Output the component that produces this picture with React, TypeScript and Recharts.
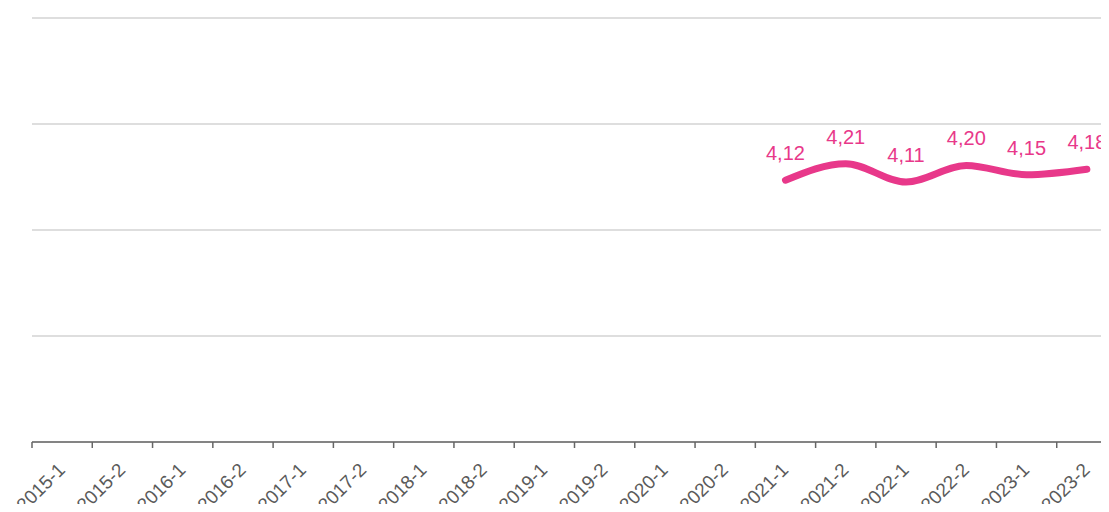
import React from "react";
import { LineChart, Line, XAxis, YAxis, CartesianGrid, LabelList } from "recharts";

const periods = [
  "2015-1", "2015-2", "2016-1", "2016-2", "2017-1", "2017-2", "2018-1", "2018-2", "2019-1",
  "2019-2", "2020-1", "2020-2", "2021-1", "2021-2", "2022-1", "2022-2", "2023-1", "2023-2",
];
const scores: (number | null)[] = [
  null, null, null, null, null, null, null, null, null,
  null, null, null, 4.12, 4.21, 4.11, 4.2, 4.15, 4.18,
];
const yTicks = [2.7, 3.275, 3.85, 4.425, 5];

const data = periods.map((p, i) => ({ period: p, value: scores[i] }));

const W = 1130;
const H = 504;
const M = { top: 10, right: 21, left: 24, bottom: 0 };
const BAND = (W - M.left - M.right) / periods.length;
const PINK = "#e8388a";
const FONT = "'Liberation Sans', Arial, sans-serif";

const XTick = (props: any) => {
  const { x, y, payload } = props;
  const ax = x + 4;
  const ay = y + 21;
  return (
    <g>
      <line x1={x - BAND / 2} x2={x - BAND / 2} y1={y - 8} y2={y - 2} stroke="#666" strokeWidth={1.5} />
      <text x={ax} y={ay} transform={`rotate(-45, ${ax}, ${ay})`} textAnchor="end" fill="#5a5a5a" fontSize={19} fontFamily={FONT}>
        {payload.value}
      </text>
    </g>
  );
};

const fmt = (v: any) => (v == null ? "" : Number(v).toFixed(2).replace(".", ","));

export default function App() {
  return (
    <div style={{ width: 1101, height: H, marginBottom: -8, overflow: "hidden", background: "#fff" }}>
      <LineChart width={W} height={H} data={data} margin={M}>
        <CartesianGrid vertical={false} stroke="#dedede" strokeWidth={2} />
        <XAxis
          dataKey="period"
          height={70}
          interval={0}
          padding={{ left: BAND / 2, right: BAND / 2 }}
          tickSize={6}
          tickMargin={2}
          tickLine={false}
          axisLine={{ stroke: "#666", strokeWidth: 1.5 }}
          tick={<XTick />}
        />
        <YAxis hide domain={[2.7, 5]} ticks={yTicks} width={0} />
        <Line
          type="monotone"
          dataKey="value"
          stroke={PINK}
          strokeWidth={7}
          strokeLinecap="round"
          dot={false}
          activeDot={false}
          isAnimationActive={false}
        >
          <LabelList dataKey="value" position="top" offset={20} fill={PINK} fontSize={20} fontFamily={FONT} formatter={fmt} />
        </Line>
      </LineChart>
    </div>
  );
}
